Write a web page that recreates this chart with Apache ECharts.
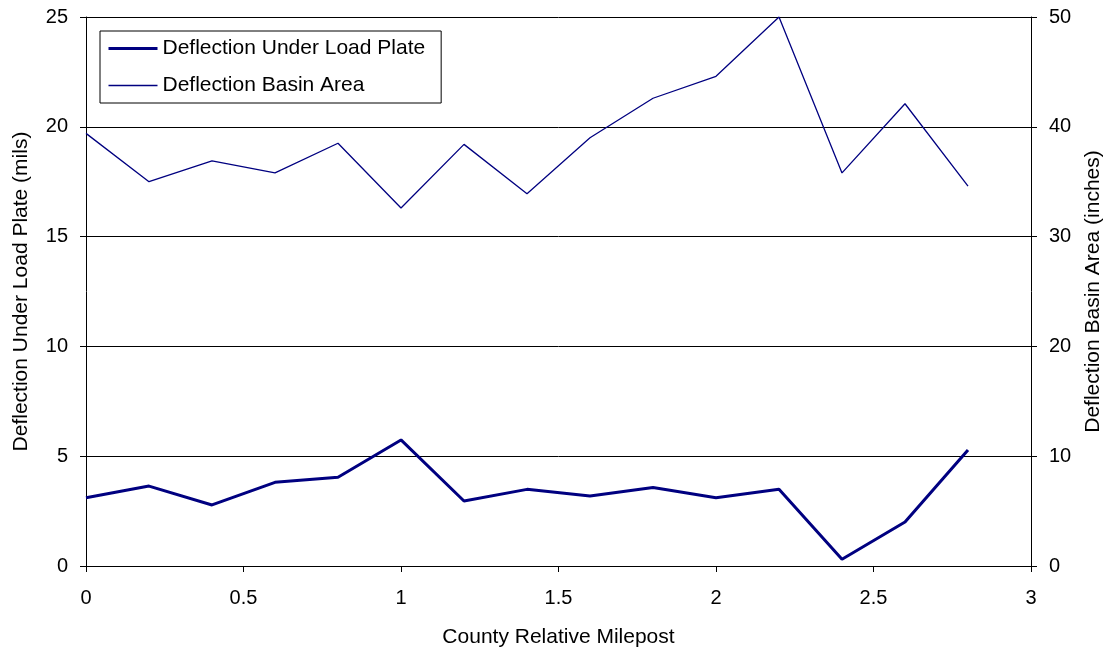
<!DOCTYPE html>
<html>
<head>
<meta charset="utf-8">
<script src="https://cdn.jsdelivr.net/npm/echarts@6/dist/echarts.min.js"></script>
<style>
  html, body { margin: 0; padding: 0; background: #fff; }
  #chart { width: 1112px; height: 653px; }
</style>
</head>
<body>
<div id="chart"></div>
<script>
// County relative milepost of each test location
const mileposts = [0, 0.2, 0.4, 0.6, 0.8, 1.0, 1.2, 1.4, 1.6, 1.8, 2.0, 2.2, 2.4, 2.6, 2.8];
// Deflection under the load plate (mils), left axis
const loadPlateDeflection = [3.11, 3.64, 2.78, 3.81, 4.04, 5.74, 2.96, 3.49, 3.19, 3.57, 3.11, 3.49, 0.31, 2.0, 5.28];
// Deflection basin area (inches), right axis
const basinArea = [39.4, 35.0, 36.9, 35.8, 38.5, 32.6, 38.4, 33.9, 39.0, 42.6, 44.6, 50.0, 35.8, 42.1, 34.6];

const seriesNames = ['Deflection Under Load Plate', 'Deflection Basin Area'];
const lineWidths = [3, 1.3];
const lineColor = '#000080';
const font = 'Liberation Sans, Arial, sans-serif';

function pairs(xs, ys) {
  return xs.map((x, i) => [x, ys[i]]);
}

const axisCommon = {
  axisLine: { show: true, lineStyle: { color: '#000', width: 1 } },
  axisTick: { show: true, inside: false, length: 6, lineStyle: { color: '#000' } },
  axisLabel: { color: '#000', fontSize: 20, fontFamily: font, margin: 18 },
  nameTextStyle: { color: '#000', fontSize: 21, fontFamily: font }
};

const chart = echarts.init(document.getElementById('chart'), null, { renderer: 'canvas' });
chart.setOption({
  animation: false,
  backgroundColor: '#fff',
  grid: { left: 86, right: 81, top: 17, bottom: 87, containLabel: false },
  legend: {
    left: 100,
    top: 31,
    orient: 'vertical',
    data: seriesNames.map((name, i) => ({
      name: name,
      lineStyle: { color: lineColor, width: lineWidths[i] }
    })),
    icon: 'inherit',
    itemStyle: { opacity: 0 },
    backgroundColor: '#fff',
    borderColor: '#000',
    borderWidth: 1,
    padding: [7, 16, 7, 7],
    itemGap: 16,
    itemWidth: 49,
    itemHeight: 21,
    textStyle: { color: '#000', fontSize: 21, fontFamily: font }
  },
  xAxis: Object.assign({}, axisCommon, {
    type: 'value',
    min: 0,
    max: 3,
    interval: 0.5,
    name: 'County Relative Milepost',
    nameLocation: 'middle',
    nameGap: 61,
    axisLabel: Object.assign({}, axisCommon.axisLabel, { margin: 22 }),
    splitLine: { show: false }
  }),
  yAxis: [
    Object.assign({}, axisCommon, {
      type: 'value',
      position: 'left',
      min: 0,
      max: 25,
      interval: 5,
      name: 'Deflection Under Load Plate (mils)',
      nameLocation: 'middle',
      nameRotate: 90,
      nameGap: 54,
      splitLine: { show: true, lineStyle: { color: '#000', width: 1 } }
    }),
    Object.assign({}, axisCommon, {
      type: 'value',
      position: 'right',
      min: 0,
      max: 50,
      interval: 10,
      name: 'Deflection Basin Area (inches)',
      nameLocation: 'middle',
      nameRotate: 90,
      nameGap: 52,
      splitLine: { show: false }
    })
  ],
  series: [
    {
      name: seriesNames[0],
      type: 'line',
      yAxisIndex: 0,
      data: pairs(mileposts, loadPlateDeflection),
      symbol: 'none',
      lineStyle: { color: lineColor, width: lineWidths[0] },
      itemStyle: { color: lineColor }
    },
    {
      name: seriesNames[1],
      type: 'line',
      yAxisIndex: 1,
      data: pairs(mileposts, basinArea),
      symbol: 'none',
      lineStyle: { color: lineColor, width: lineWidths[1] },
      itemStyle: { color: lineColor }
    }
  ]
});
</script>
</body>
</html>
